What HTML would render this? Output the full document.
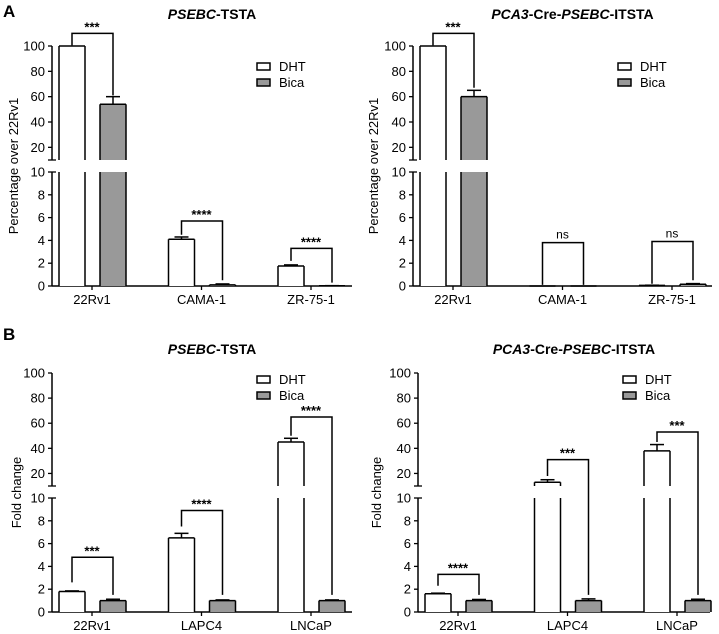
<!DOCTYPE html>
<html><head><meta charset="utf-8"><style>
body{margin:0;background:#fff;}
svg{display:block;font-family:"Liberation Sans",Arial,sans-serif;}
</style></head><body>
<svg id="c" width="719" height="634" viewBox="0 0 719 634" xmlns="http://www.w3.org/2000/svg">
<text x="3" y="17" font-size="17" font-weight="bold">A</text>
<text x="3" y="340" font-size="17" font-weight="bold">B</text>
</svg>
<script>
// Data
const catsA = ["22Rv1","CAMA-1","ZR-75-1"];
const catsB = ["22Rv1","LAPC4","LNCaP"];
const a1Dht = [100, 4.1, 1.75];
const a1DhtErr = [0, 0.2, 0.1];
const a1Bica = [54, 0.1, 0.02];
const a1BicaErr = [6, 0.08, 0.01];
const a2Dht = [100, 0, 0.05];
const a2DhtErr = [0, 0, 0.02];
const a2Bica = [60, 0, 0.15];
const a2BicaErr = [5, 0, 0.06];
const b1Dht = [1.8, 6.5, 45];
const b1DhtErr = [0.05, 0.4, 3];
const b1Bica = [1.0, 1.0, 1.0];
const b1BicaErr = [0.12, 0.06, 0.06];
const b2Dht = [1.6, 13, 38];
const b2DhtErr = [0.05, 2, 5];
const b2Bica = [1.0, 1.0, 1.0];
const b2BicaErr = [0.1, 0.15, 0.12];
const a1Sig = [["***",110,100.5,61],["****",5.7,4.5,0.5],["****",3.3,2.2,0.3]];
const a2Sig = [["***",110,100.5,67],["ns",3.8,0.1,0.1],["ns",3.9,0.2,0.5]];
const b1Sig = [["***",4.8,2.6,1.5],["****",8.9,7.5,1.5],["****",65,50,1.5]];
const b2Sig = [["****",3.3,2.3,1.5],["***",31,18,1.5],["***",53,45,1.5]];
const lowTicks = [0,2,4,6,8,10];
const highTicks = [20,40,60,80,100];

const svg = document.getElementById('c');
const NS = 'http://www.w3.org/2000/svg';
function mk(tag, attrs, parent){const e=document.createElementNS(NS,tag);for(const k in attrs)e.setAttribute(k,attrs[k]);(parent||svg).appendChild(e);return e;}

function panel(cfg){
  const g = mk('g',{});
  
  
  const {x0,x1,y0,y10,yb,y100} = cfg;
  const yl = v => y0 - (y0-y10)*v/10;
  const yh = v => yb - (yb-y100)*(v-10)/90;
  const y = v => v<=10 ? yl(v) : yh(v);
  const cx = i => x0 + 40 + i*109.5;
  const bw = 26;
  // axes
  let e = mk('line',{x1:x0,y1:y0,x2:x1,y2:y0,stroke:'#000','stroke-width':1.5},g);
   
  e = mk('line',{x1:x0,y1:y0,x2:x0,y2:y10,stroke:'#000','stroke-width':1.5},g);
   
  e = mk('line',{x1:x0,y1:yb,x2:x0,y2:y100,stroke:'#000','stroke-width':1.5},g);
   
  mk('line',{x1:x0-4,y1:yb,x2:x0+4,y2:yb,stroke:'#000','stroke-width':1.3},g);
  mk('line',{x1:x0,y1:y10,x2:x0+4,y2:y10,stroke:'#000','stroke-width':1.3},g);
  lowTicks.forEach(t=>{
    mk('line',{x1:x0-4,y1:yl(t),x2:x0,y2:yl(t),stroke:'#000','stroke-width':1.3},g);
    const tx = mk('text',{x:x0-7,y:yl(t)+4.5,'font-size':13,'text-anchor':'end'},g); tx.textContent=t;
     
  });
  highTicks.forEach(t=>{
    mk('line',{x1:x0-4,y1:yh(t),x2:x0,y2:yh(t),stroke:'#000','stroke-width':1.3},g);
    const tx = mk('text',{x:x0-7,y:yh(t)+4.5,'font-size':13,'text-anchor':'end'},g); tx.textContent=t;
     
  });
  const yt = mk('text',{x:0,y:0,'font-size':13,'text-anchor':'middle',transform:`translate(${cfg.ylx},${(y0+y100)/2}) rotate(-90)`},g);
  yt.textContent = cfg.ylabel;
   
  const tt = mk('text',{x:(x0+x1)/2+10,y:cfg.ty,'font-size':14,'font-weight':'bold','text-anchor':'middle'},g);
  tt.innerHTML = cfg.title;
   
  function bar(xc, v, err, fill, nm){
    const bg = mk('g',{},g);
     
    const xl = xc-bw/2, xr = xc+bw/2;
    if(v<=0.001){ mk('line',{x1:xl,y1:y0,x2:xr,y2:y0,stroke:'#000','stroke-width':1.5},bg); return; }
    const vl = Math.min(v,10);
    mk('rect',{x:xl,y:yl(vl),width:bw,height:y0-yl(vl),fill:fill,stroke:'none'},bg);
    mk('line',{x1:xl,y1:y0,x2:xl,y2:yl(vl),stroke:'#000','stroke-width':1.5},bg);
    mk('line',{x1:xr,y1:y0,x2:xr,y2:yl(vl),stroke:'#000','stroke-width':1.5},bg);
    if(v<=10){ mk('line',{x1:xl,y1:yl(v),x2:xr,y2:yl(v),stroke:'#000','stroke-width':1.5},bg); }
    else{
      mk('rect',{x:xl,y:yh(v),width:bw,height:yb-yh(v),fill:fill,stroke:'none'},bg);
      mk('line',{x1:xl,y1:yb,x2:xl,y2:yh(v),stroke:'#000','stroke-width':1.5},bg);
      mk('line',{x1:xr,y1:yb,x2:xr,y2:yh(v),stroke:'#000','stroke-width':1.5},bg);
      mk('line',{x1:xl,y1:yh(v),x2:xr,y2:yh(v),stroke:'#000','stroke-width':1.5},bg);
    }
    if(err>0){
      const ye=y(v+err);
      mk('line',{x1:xc,y1:y(v),x2:xc,y2:ye,stroke:'#000','stroke-width':1.5},bg);
      mk('line',{x1:xc-7,y1:ye,x2:xc+7,y2:ye,stroke:'#000','stroke-width':1.5},bg);
    }
  }
  cfg.cats.forEach((c,i)=>{
    const c0 = cx(i);
    bar(c0-20, cfg.dht[i], cfg.dhtErr[i], '#fff', 'bar-dht-'+c);
    bar(c0+21, cfg.bica[i], cfg.bicaErr[i], '#999', 'bar-bica-'+c);
    mk('line',{x1:c0,y1:y0,x2:c0,y2:y0+4,stroke:'#000','stroke-width':1.3},g);
    const lt = mk('text',{x:c0,y:y0+18,'font-size':13,'text-anchor':'middle'},g); lt.textContent=c;
     
    const s = cfg.sig[i];
    const sg = mk('g',{},g);
     
    const yy=y(s[1]);
    mk('path',{d:`M${c0-20},${y(s[2])}V${yy}H${c0+21}V${y(s[3])}`,fill:'none',stroke:'#000','stroke-width':1.5},sg);
    const st = mk('text',{x:c0,y:s[0]==='ns'?yy-4:yy-2,'font-size':s[0]==='ns'?12:13,'font-weight':s[0]==='ns'?'normal':'bold','text-anchor':'middle'},sg);
    st.textContent=s[0];
  });
  // legend
  const lg = mk('g',{},g);
   
  [['DHT','#fff',0],['Bica','#999',16]].forEach(([t,f,dy])=>{
    mk('rect',{x:cfg.lx,y:cfg.ly+dy,width:13,height:7,fill:f,stroke:'#000','stroke-width':1.5},lg);
    const lt=mk('text',{x:cfg.lx+22,y:cfg.ly+dy+8,'font-size':13},lg); lt.textContent=t;
     
  });
}
const topY={y0:286,y10:172,yb:160,y100:46,ty:19};
const botY={y0:612,y10:498,yb:486,y100:373,ty:354};
panel(Object.assign({name:'panel-a-pseebc',x0:52,x1:352,ylx:18,ylabel:'Percentage over 22Rv1',title:'<tspan font-style="italic">PSEBC</tspan>-TSTA',cats:catsA,dht:a1Dht,dhtErr:a1DhtErr,bica:a1Bica,bicaErr:a1BicaErr,sig:a1Sig,lx:257,ly:63},topY));
panel(Object.assign({name:'panel-a-pca3',x0:413,x1:712,ylx:378,ylabel:'Percentage over 22Rv1',title:'<tspan font-style="italic">PCA3</tspan>-Cre-<tspan font-style="italic">PSEBC</tspan>-ITSTA',cats:catsA,dht:a2Dht,dhtErr:a2DhtErr,bica:a2Bica,bicaErr:a2BicaErr,sig:a2Sig,lx:618,ly:63},topY));
panel(Object.assign({name:'panel-b-pseebc',x0:52,x1:352,ylx:21,ylabel:'Fold change',title:'<tspan font-style="italic">PSEBC</tspan>-TSTA',cats:catsB,dht:b1Dht,dhtErr:b1DhtErr,bica:b1Bica,bicaErr:b1BicaErr,sig:b1Sig,lx:257,ly:376},botY));
panel(Object.assign({name:'panel-b-pca3',x0:418,x1:710,ylx:381,ylabel:'Fold change',title:'<tspan font-style="italic">PCA3</tspan>-Cre-<tspan font-style="italic">PSEBC</tspan>-ITSTA',cats:catsB,dht:b2Dht,dhtErr:b2DhtErr,bica:b2Bica,bicaErr:b2BicaErr,sig:b2Sig,lx:623,ly:376},botY));
</script>
</body></html>
